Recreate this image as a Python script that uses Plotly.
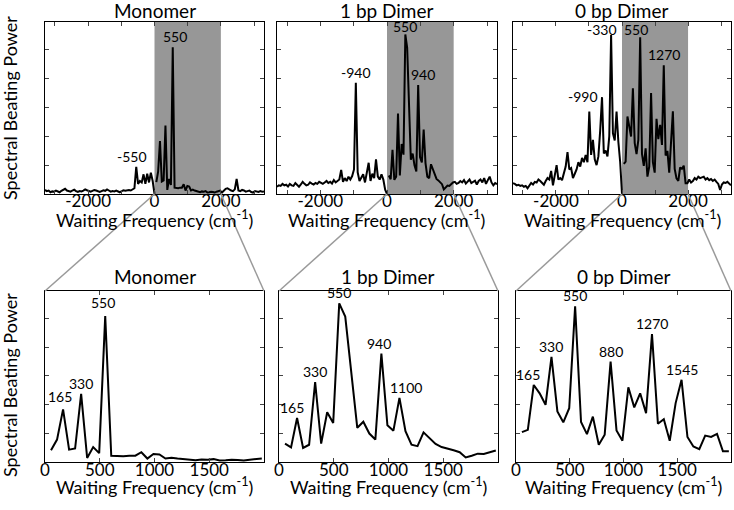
import numpy as np
import plotly.graph_objects as go

# frequency grid (cm-1), 55 cm-1 spacing
freq_neg = [-55 * k for k in range(60, -1, -1)]   # -3300 .. 0
freq_pos = [55 * k for k in range(1, 61)]         # 55 .. 3300

# spectral beating power, negative frequencies (-3300 .. 0)
mono_neg = [0.14, 0.1, 0.12, 0.06, 0.09, 0.08, 0.12, 0.1, 0.06, 0.11,
            0.14, 0.18, 0.12, 0.1, 0.08, 0.12, 0.15, 0.1, 0.07, 0.1,
            0.09, 0.12, 0.16, 0.13, 0.1, 0.08, 0.11, 0.14, 0.12, 0.09,
            0.07, 0.1, 0.13, 0.11, 0.16, 0.12, 0.08, 0.1, 0.09, 0.12,
            0.1, 0.06, 0.1, 0.13, 0.11,
            0.12, 0.14, 0.12, 0.16, 0.2, 0.94, 0.35, 0.45, 0.4, 0.68,
            0.35, 0.7, 0.4, 0.74, 0.45, 0.0]
dimer1_neg = [0.25, 0.3, 0.28, 0.35, 0.3, 0.32, 0.26, 0.35, 0.3, 0.28,
              0.38, 0.3, 0.25, 0.33, 0.42, 0.35, 0.3, 0.32, 0.4, 0.36,
              0.33, 0.38, 0.35, 0.42, 0.37, 0.35, 0.4, 0.45, 0.38, 0.42,
              0.36, 0.48, 0.4, 0.44, 0.5,
              0.83, 0.42, 0.55, 0.45, 0.6, 0.5, 0.62, 0.85, 3.85, 0.75,
              0.45, 0.55, 0.68, 0.4, 0.7, 1.08, 0.45, 0.7, 0.55, 1.2,
              0.6, 0.5, 0.68, 0.5, 0.15, 0.0]
dimer0_neg = [0.37, 0.35, 0.3, 0.32, 0.28, 0.3, 0.25, 0.28, 0.2, 0.3,
              0.38, 0.33, 0.42, 0.4, 0.5, 0.45, 0.38, 0.32, 0.45, 0.55,
              0.5, 0.8, 0.3, 0.6, 1.0, 0.5, 0.55, 0.48, 0.7, 0.95,
              1.45, 0.85, 0.9, 0.55, 0.7, 0.85, 1.1, 0.95, 1.25, 1.1,
              1.35, 1.1, 2.85, 1.35, 1.87, 1.2, 1.0, 1.3, 2.2, 3.35,
              1.4, 1.5, 1.3, 2.0, 5.5, 2.1, 1.85, 2.85, 1.8, 1.1, 0.0]

# positive frequencies (55 .. 3300); first 36 points are the zoomed 0-2000 window
mono_pos = [0.41, 0.78, 1.83, 0.43, 0.47, 2.37, 0.14, 0.52, 0.31, 5.08,
            0.22, 0.2, 0.2, 0.22, 0.22, 0.34, 0.12, 0.28, 0.26, 0.12,
            0.15, 0.12, 0.1, 0.07, 0.06, 0.09, 0.08, 0.1, 0.05, 0.06,
            0.08, 0.07, 0.05, 0.08, 0.1, 0.12,
            0.05, 0.12, 0.18, 0.2, 0.15, 0.12, 0.1, 0.16, 0.52, 0.12,
            0.1, 0.14, 0.12, 0.08, 0.1, 0.12, 0.07, 0.05, 0.1, 0.09,
            0.07, 0.1, 0.08, 0.09]
dimer1_pos = [0.64, 0.51, 1.53, 0.49, 0.6, 2.78, 0.64, 1.73, 1.36, 5.52,
              5.06, 3.1, 1.19, 1.4, 0.99, 0.78, 3.77, 1.28, 1.09, 2.23,
              1.07, 0.6, 0.55, 1.03, 0.84, 0.63, 0.52, 0.47, 0.41, 0.34,
              0.16, 0.22, 0.29, 0.28, 0.34, 0.4,
              0.42, 0.35, 0.38, 0.45, 0.4, 0.48, 0.36, 0.44, 0.5, 0.38,
              0.42, 0.46, 0.33, 0.45, 0.5, 0.4, 0.55, 0.35, 0.48, 0.6,
              0.4, 0.3, 0.38, 0.34]
dimer0_pos = [1.04, 1.12, 2.68, 2.39, 1.99, 3.66, 1.76, 1.38, 1.87, 5.42,
              1.39, 0.97, 1.58, 0.6, 0.95, 3.49, 1.1, 0.74, 2.6, 1.9,
              2.39, 1.7, 4.45, 1.33, 1.49, 0.74, 2.05, 2.86, 0.87, 0.54,
              0.45, 0.92, 0.87, 0.98, 0.37, 0.37,
              0.5, 0.4, 0.45, 0.55, 0.5, 0.6, 0.55, 0.58, 0.6, 0.5,
              0.55, 0.48, 0.52, 0.45, 0.5, 0.42, 0.35, 0.14, 0.33, 0.4,
              0.38, 0.42, 0.35, 0.3]

titles = ["Monomer", "1 bp Dimer", "0 bp Dimer"]

# peak labels: (frequency, text, xshift, yshift)
top_labels = [
    [(-550, "-550", -4, 0), (550, "550", 2, 0)],
    [(-935, "-940", 0, 0), (550, "550", 0, -3), (935, "940", 5, 0)],
    [(-990, "-990", -6, 5), (-330, "-330", -9, -5), (550, "550", -4, -3), (1265, "1270", 0, 0)],
]
bottom_labels = [
    [(165, "165", -3, 2), (330, "330", 0, 0), (550, "550", -2, 3)],
    [(165, "165", -5, 0), (330, "330", 0, 0), (550, "550", 0, 0), (935, "940", -2, 0), (1100, "1100", 7, 0)],
    [(165, "165", -6, 0), (330, "330", 0, 0), (550, "550", 0, 0), (880, "880", 0, 0), (1265, "1270", 0, 0), (1540, "1545", 0, 0)],
]

W, H = 734, 510
top_px = [(45, 264), (277, 497), (513, 731)]
bot_px = [(45, 264), (279, 498), (516, 731)]
top_y = (22, 194)
bot_y = (291, 462)
top_range = [-3300, 3300]
bot_range = [0, 2000]
y_range = [0, 5.95]

FONT = "Lato"
negs = [mono_neg, dimer1_neg, dimer0_neg]
poss = [mono_pos, dimer1_pos, dimer0_pos]

fig = go.Figure()
layout = dict(width=W, height=H, margin=dict(l=0, r=0, t=0, b=0, autoexpand=False),
              paper_bgcolor="white", plot_bgcolor="white", showlegend=False,
              font=dict(family=FONT, size=16, color="black"))

ann = []
shapes = []


def xdom(px):
    return [px[0] / W, px[1] / W]


def ydom(py):
    return [1 - py[1] / H, 1 - py[0] / H]


def peak_y(xs, ys, f):
    return max(y for x, y in zip(xs, ys) if abs(x - f) <= 60)


def label(x, y, text, size, **kw):
    # centred paper-space text
    return dict(x=x, y=y, xref="paper", yref="paper", text=text, showarrow=False,
                xanchor="center", yanchor="middle", font=dict(size=size), **kw)


axis_common = dict(ticks="inside", ticklen=4, showline=True, mirror="ticks",
                   linecolor="black", linewidth=1, showgrid=False, zeroline=False,
                   automargin=False)
xlabel = "Waiting Frequency (cm<sup>-1</sup>)"

for i in range(3):
    # top row
    n = i + 1
    ax = "" if n == 1 else str(n)
    fig.add_trace(go.Scatter(x=freq_neg, y=negs[i], mode="lines",
                             line=dict(color="black", width=2),
                             xaxis="x" + ax, yaxis="y" + ax))
    fig.add_trace(go.Scatter(x=freq_pos, y=poss[i], mode="lines",
                             line=dict(color="black", width=2),
                             xaxis="x" + ax, yaxis="y" + ax))
    layout["xaxis" + ax] = dict(domain=xdom(top_px[i]), range=top_range, anchor="y" + ax,
                                tickvals=list(range(-3000, 3001, 1000)),
                                ticktext=["", "-2000", "", "0", "", "2000", ""],
                                tickfont=dict(size=17), ticklabelstandoff=-8,
                                **axis_common)
    layout["yaxis" + ax] = dict(domain=ydom(top_y), range=y_range, anchor="x" + ax,
                                dtick=1, tick0=0, showticklabels=False, **axis_common)
    shapes.append(dict(type="rect", xref="x" + ax, yref="y" + ax + " domain",
                       x0=0, x1=2000, y0=0, y1=1, fillcolor="#979797",
                       line=dict(width=0), layer="below"))
    cx = (top_px[i][0] + top_px[i][1]) / 2 / W
    ann.append(label(cx, 1 - 10 / H, titles[i], 19))
    ann.append(label(cx, 1 - 219 / H, xlabel, 18))
    allx = freq_neg + freq_pos
    ally = negs[i] + poss[i]
    for f, t, dx, dy in top_labels[i]:
        ann.append(dict(x=f, y=peak_y(allx, ally, f), xref="x" + ax, yref="y" + ax,
                        text=t, showarrow=False, xanchor="center", yanchor="bottom",
                        xshift=dx, yshift=dy, font=dict(size=14)))

    # bottom row (zoom of 0-2000 window)
    bx = str(i + 4)
    fig.add_trace(go.Scatter(x=freq_pos[:36], y=poss[i][:36], mode="lines",
                             line=dict(color="black", width=2),
                             xaxis="x" + bx, yaxis="y" + bx))
    layout["xaxis" + bx] = dict(domain=xdom(bot_px[i]), range=bot_range, anchor="y" + bx,
                                tickvals=[0, 500, 1000, 1500],
                                tickfont=dict(size=17), ticklabelstandoff=-7,
                                **axis_common)
    layout["yaxis" + bx] = dict(domain=ydom(bot_y), range=y_range, anchor="x" + bx,
                                dtick=1, tick0=0, showticklabels=False, **axis_common)
    bcx = (bot_px[i][0] + bot_px[i][1]) / 2 / W
    ann.append(label(bcx, 1 - 276 / H, titles[i], 19))
    ann.append(label(bcx, 1 - 486 / H, xlabel, 18))
    for f, t, dx, dy in bottom_labels[i]:
        ann.append(dict(x=f, y=peak_y(freq_pos[:36], poss[i][:36], f), xref="x" + bx,
                        yref="y" + bx, text=t, showarrow=False, xanchor="center",
                        yanchor="bottom", xshift=dx, yshift=dy, font=dict(size=14)))

    # gray connector lines from the shaded window to the zoomed panel
    d0, d1 = xdom(top_px[i])
    for v, bxp in ((bot_range[0], bot_px[i][0]), (bot_range[1], bot_px[i][1])):
        xp = d0 + (v - top_range[0]) / (top_range[1] - top_range[0]) * (d1 - d0)
        shapes.append(dict(type="line", xref="paper", yref="paper",
                           x0=xp, y0=1 - top_y[1] / H, x1=bxp / W, y1=1 - bot_y[0] / H,
                           line=dict(color="#9a9a9a", width=1.5)))

for yc in (108, 385):
    ann.append(label(10 / W, 1 - yc / H, "Spectral Beating Power", 18, textangle=-90))

layout["annotations"] = ann
layout["shapes"] = shapes
fig.update_layout(**layout)

fig.write_html("out.html", config={"displayModeBar": False},
               post_script="document.body.style.margin = '0';")
